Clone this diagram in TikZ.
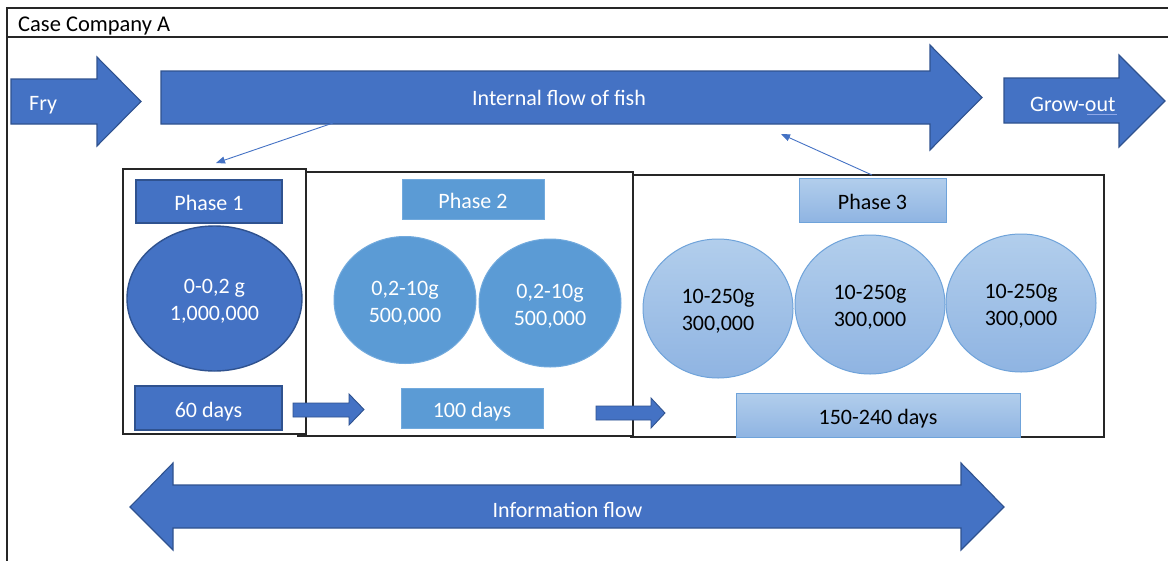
\documentclass[tikz,border=0pt]{standalone}
\usepackage{fontspec}
\setmainfont{Carlito}
\usetikzlibrary{arrows.meta,shapes.geometric}

\definecolor{darkfill}{HTML}{4472C4}
\definecolor{darkline}{HTML}{2F528F}
\definecolor{midfill}{HTML}{5B9BD5}
\definecolor{midline}{HTML}{72AADD}
\definecolor{lighttop}{HTML}{B2CEEC}
\definecolor{lightbot}{HTML}{8FB4E2}
\definecolor{lightline}{HTML}{6FA3DA}
\definecolor{proofline}{HTML}{8FA8E8}

\tikzset{
  txt/.style={font=\fontsize{22}{27}\selectfont, align=center, inner sep=0pt},
  boxtxt/.style={txt, text height=18pt, text depth=0pt},
  darkbox/.style={boxtxt, draw=darkline, fill=darkfill, line width=1.4pt, text=white},
  midbox/.style={boxtxt, draw=midline, fill=midfill, line width=1pt, text=white},
  lightbox/.style={boxtxt, draw=lightline, top color=lighttop, bottom color=lightbot, line width=1pt, text=black},
  darkpond/.style={ellipse, draw=darkline, fill=darkfill, line width=1.4pt},
  midpond/.style={ellipse, draw=midline, fill=midfill, line width=1pt},
  lightpond/.style={ellipse, draw=lightline, top color=lighttop, bottom color=lightbot, line width=1pt},
  pondtxt/.style={txt, yshift=-3pt},
  blockarrow/.style={draw=darkline, fill=darkfill, line width=1.1pt, line join=miter},
  frame/.style={draw=black!85, fill=white, line width=1.1pt},
  link/.style={draw=darkfill, line width=0.9pt, -{Triangle[length=9pt,width=7pt]}},
  arrowtext/.style={txt, text=white}
}

\begin{document}
\begin{tikzpicture}[x=1pt,y=-1pt]
\useasboundingbox (0,0) rectangle (1168,560);
\clip (0,0) rectangle (1168,560);

% outer frame with header strip
\draw[line width=1.2pt, black!85] (7,8) rectangle (1190,600);
\draw[line width=1.2pt, black!85] (7,37) -- (1190,37);
\node[txt, anchor=base west, font=\fontsize{22.5}{27}\selectfont] (title) at (18,31.5) {Case Company A};

% main flow arrows
\draw[blockarrow] (11,79) -- (97,79) -- (97,57) -- (141,101.5) -- (97,146) -- (97,124) -- (11,124) -- cycle;
\node[arrowtext, anchor=base west] (fry) at (29,110) {Fry};

\draw[blockarrow] (161,71) -- (930,71) -- (930,45) -- (982,97.5) -- (930,150) -- (930,124) -- (161,124) -- cycle;
\node[arrowtext, anchor=base] (internal) at (559,105) {Internal flow of fish};

\draw[blockarrow] (1004,78) -- (1119,78) -- (1119,55) -- (1165,101) -- (1119,147) -- (1119,123) -- (1004,123) -- cycle;
\node[arrowtext, anchor=base west] (growout) at (1030,111) {Grow-out};
\draw[proofline, line width=0.8pt] (1087,114.5) -- (1117,114.5);

% phase frames
\draw[frame] (631,175) rectangle (1104,437);
\draw[frame] (298,172) rectangle (633,436);
\draw[frame] (123,169) rectangle (306,434);

% phase 1
\node[darkbox, minimum width=146pt, minimum height=43pt] (ph1) at (209,201.5) {Phase 1};
\node[darkpond, minimum width=175pt, minimum height=145pt] (t1) at (214.5,298.5) {};
\node[pondtxt, text=white] (t1txt) at (t1.center) {0-0,2 g\\1,000,000};
\node[darkbox, minimum width=147pt, minimum height=44pt] (d1) at (208.5,408) {60 days};

% phase 2
\node[midbox, minimum width=142pt, minimum height=40pt] (ph2) at (473,199) {Phase 2};
\node[midpond, minimum width=142pt, minimum height=127pt] (t2a) at (405,300) {};
\node[pondtxt, text=white] (t2atxt) at (t2a.center) {0,2-10g\\500,000};
\node[midpond, minimum width=142pt, minimum height=128pt] (t2b) at (550,303) {};
\node[pondtxt, text=white] (t2btxt) at (t2b.center) {0,2-10g\\500,000};
\node[midbox, minimum width=142pt, minimum height=40pt] (d2) at (472,408) {100 days};

% phase 3
\node[lightbox, minimum width=147pt, minimum height=44pt] (ph3) at (872.5,200) {Phase 3};
\node[lightpond, minimum width=150pt, minimum height=139pt] (t3a) at (718,308.5) {};
\node[pondtxt] (t3atxt) at (t3a.center) {10-250g\\300,000};
\node[lightpond, minimum width=150pt, minimum height=139pt] (t3b) at (870,304.5) {};
\node[pondtxt] (t3btxt) at (t3b.center) {10-250g\\300,000};
\node[lightpond, minimum width=150pt, minimum height=138pt] (t3c) at (1021,303) {};
\node[pondtxt] (t3ctxt) at (t3c.center) {10-250g\\300,000};
\node[lightbox, minimum width=284pt, minimum height=44pt] (d3) at (878,415) {150-240 days};

% small arrows between the day boxes
\draw[blockarrow, line width=0.9pt] (293,403) -- (349,403) -- (349,394) -- (364,409.5) -- (349,425) -- (349,417) -- (293,417) -- cycle;
\draw[blockarrow, line width=0.9pt] (596,406) -- (651,406) -- (651,398) -- (665,413) -- (651,428) -- (651,420) -- (596,420) -- cycle;

% links between the flow and the phases
\coordinate (flowout) at (333,123);
\coordinate (p1in) at (216,163);
\coordinate (p3out) at (872,175);
\coordinate (flowin) at (781,134);
\draw[link] (flowout) -- (p1in);
\draw[link] (p3out) -- (flowin);

% information flow
\draw[blockarrow] (130,507) -- (173,463) -- (173,485) -- (961,485) -- (961,463) -- (1004,507) -- (961,550) -- (961,528) -- (173,528) -- (173,550) -- cycle;
\node[arrowtext, anchor=base] (info) at (567.5,517) {Information flow};
\end{tikzpicture}
\end{document}
